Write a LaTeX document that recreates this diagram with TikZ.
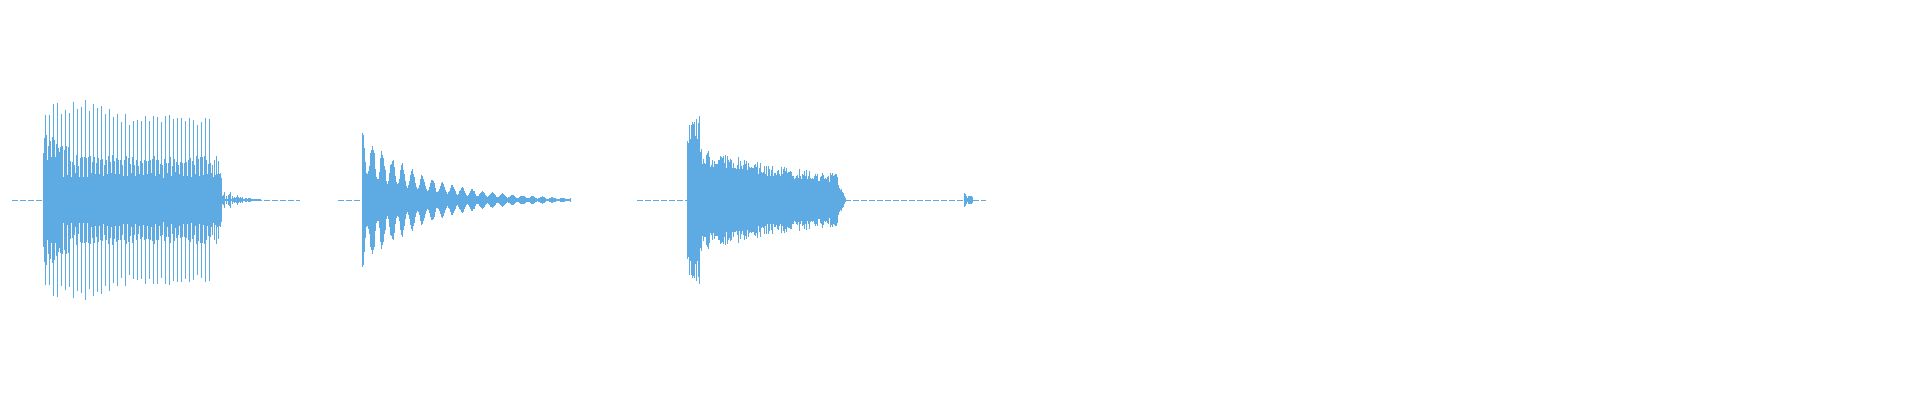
\documentclass[tikz,border=0pt]{standalone}
\definecolor{wavecolor}{RGB}{93,171,226}
\tikzset{
  wave/.style={draw=wavecolor,line width=0.7pt},
  spike/.style={draw=wavecolor,line width=0.5pt},
  base/.style={draw=wavecolor,line width=0.5pt,dash pattern=on 6pt off 2pt}
}
\begin{document}
\begin{tikzpicture}[x=1pt,y=-1pt]
\useasboundingbox (0,0) rectangle (1920,400);
\pgfmathsetseed{11}
% quiet lines
\draw[base] (12,200) -- (43,200);
\draw[base] (240,200) -- (300,200);
\draw[base] (338,200) -- (362,200);
\draw[base] (637,200) -- (687,200);
\draw[base] (845,200) -- (986,200);
% first burst: body
\foreach \x in {43,...,220}{
  \pgfmathsetmacro{\a}{(\x<60 ? 50 : 28)*(0.8+0.2*rnd)}
  \draw[wave] (\x,200-\a) -- (\x,200+\a);
}
% first burst: mid lines
\foreach \x in {44,46,...,218}{
  \pgfmathsetmacro{\a}{(\x<70 ? 65 : 45)*(0.75+0.25*rnd)}
  \draw[spike] (\x,200-\a) -- (\x,200+\a);
}
% first burst: tall spikes
\foreach \x in {45,49,...,212}{
  \pgfmathsetmacro{\a}{(\x<110 ? 100 : 88)*(0.85+0.15*rnd)}
  \draw[spike] (\x,200-\a) -- (\x,200+\a);
}
% first burst: tail
\foreach \x in {221,...,260}{
  \pgfmathsetmacro{\a}{24*exp(-(\x-220)/10)*rnd+0.8}
  \draw[spike] (\x,200-\a) -- (\x,200+\a);
}
% second burst
\foreach \x in {362,...,570}{
  \pgfmathsetmacro{\a}{max(1,72*exp(-(\x-362)/60)*(0.4+0.6*abs(cos(18*(\x-362)))^2)*(0.85+0.15*rnd))}
  \draw[wave] (\x,200-\a) -- (\x,200+\a);
}
% third burst
\foreach \x in {687,...,845}{
  \pgfmathsetmacro{\a}{(\x<700 ? 85 : 52*exp(-(\x-700)/200))*(0.65+0.35*rnd)*(\x>835 ? (845-\x)/10+0.1 : 1)}
  \draw[wave] (\x,200-\a) -- (\x,200+\a);
}
% blip
\foreach \x in {964,...,972}{
  \pgfmathsetmacro{\a}{7*rnd+1}
  \draw[spike] (\x,200-\a) -- (\x,200+\a);
}
\end{tikzpicture}
\end{document}
